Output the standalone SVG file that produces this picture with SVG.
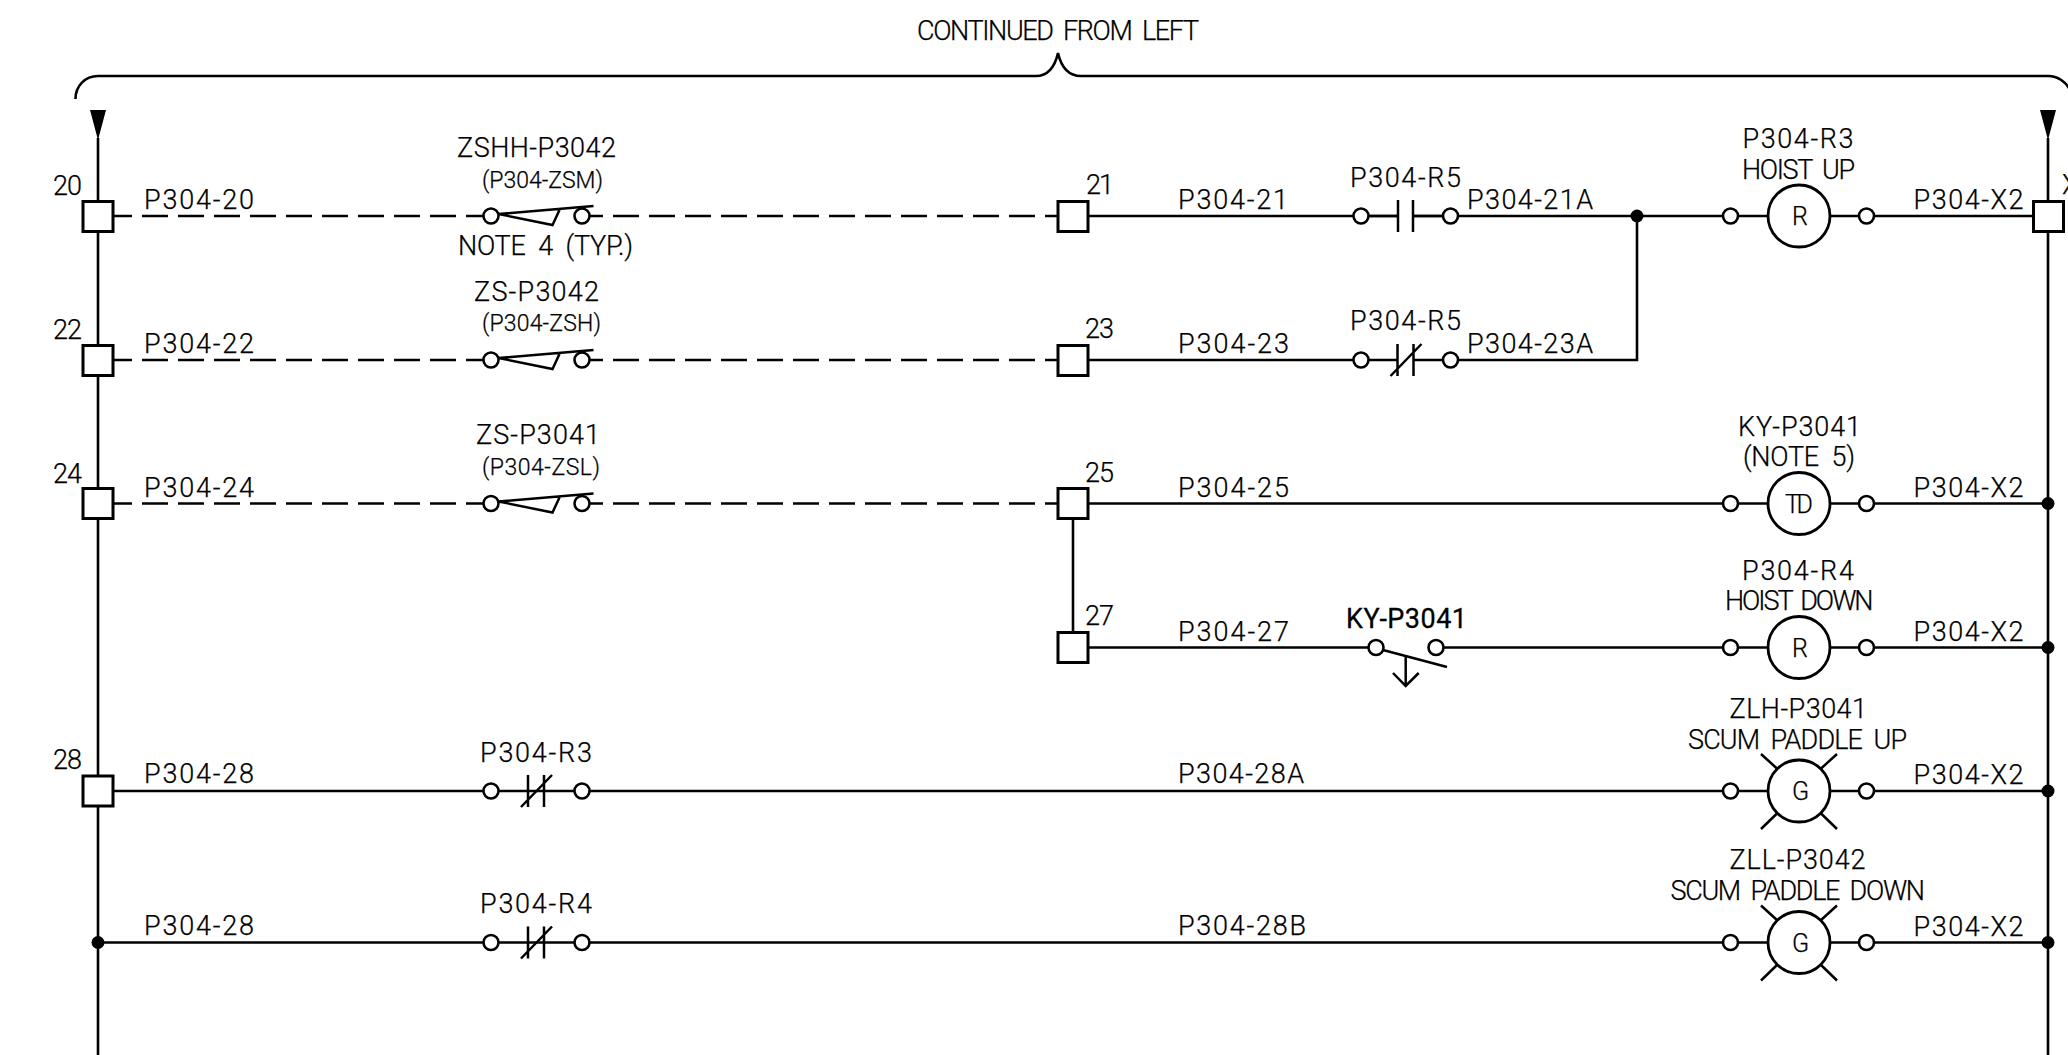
<svg xmlns="http://www.w3.org/2000/svg" width="2068" height="1055" viewBox="0 0 2068 1055">
<style>
text{font-family:Roboto,"Liberation Sans",Arial,sans-serif;font-weight:300;font-size:27px;fill:#000;stroke:#000;stroke-width:.25;white-space:pre}
text.s{font-size:23px}
text.c{font-size:25px}
text.b{font-weight:400;stroke-width:.3}
.w,.w line,.w path{fill:none;stroke:#000;stroke-width:2.6}
.d{stroke-dasharray:26 10}
.box{fill:#fff;stroke:#000;stroke-width:3}
.o{fill:#fff;stroke:#000;stroke-width:2.6}
.coil{fill:#fff;stroke:#000;stroke-width:2.8}
.dot{fill:#000}
.t{fill:none;stroke:#000;stroke-width:2.5}
</style>
<defs>
<g id="term"><rect class="box" x="-15" y="-15" width="30" height="30"/></g>
<g id="cp"><circle class="o" cx="0" cy="0" r="7.5"/></g>
<g id="zs"><circle class="o" cx="-45.5" cy="0" r="7.5"/><circle class="o" cx="45.5" cy="0" r="7.5"/><path class="t" d="M-38-2L57-10M-38-2L16 9L23-6"/></g>
<g id="nc"><path class="t" d="M-8-16V16M8-16V16M-15 16L16-16"/></g>
<g id="rays"><path class="t" d="M-38-37L-21.5-22M38-37L21.5-22M-38 38L-21.5 22M38 38L21.5 22"/></g>
</defs>

<g id="connectors">
<g class="w">
<path d="M75.500 99C75.500 86 85 76 98 76H1036C1048 76 1055 66 1058 53C1061 66 1068 76 1081 76H2048C2058 76 2066 82 2070 90"/>
<line x1="98" y1="138" x2="98" y2="1055"/>
<line x1="2048" y1="138" x2="2048" y2="1055"/>
<line class="d" x1="113" y1="216" x2="483" y2="216" stroke-dashoffset="7"/>
<line class="d" x1="589" y1="216" x2="1058" y2="216" stroke-dashoffset="12"/>
<line class="d" x1="113" y1="360" x2="483" y2="360" stroke-dashoffset="7"/>
<line class="d" x1="589" y1="360" x2="1058" y2="360" stroke-dashoffset="12"/>
<line class="d" x1="113" y1="503.500" x2="483" y2="503.500" stroke-dashoffset="7"/>
<line class="d" x1="589" y1="503.500" x2="1058" y2="503.500" stroke-dashoffset="12"/>
<path d="M1088 216H1398M1413 216H2033"/>
<path d="M1088 360H1398M1413 360H1637V216"/>
<path d="M1088 503.500H2048"/>
<path d="M1073 519V632.500"/>
<path d="M1088 647.500H1368M1444 647.500H2048"/>
<path d="M113 791H2048"/>
<path d="M98 942.500H2048"/>
</g>
<path class="dot" d="M90 110H106L98 140Z"/>
<path class="dot" d="M2040 110H2056L2048 140Z"/>
<circle class="dot" cx="1637" cy="216" r="6.500"/>
<circle class="dot" cx="98" cy="942.500" r="6.500"/>
<circle class="dot" cx="2048" cy="503.500" r="6.500"/>
<circle class="dot" cx="2048" cy="647.500" r="6.500"/>
<circle class="dot" cx="2048" cy="791" r="6.500"/>
<circle class="dot" cx="2048" cy="942.500" r="6.500"/>
</g>

<g id="title"><text x="917" y="40" textLength="282">CONTINUED  FROM  LEFT</text></g>

<g id="t20"><use href="#term" x="98" y="216.500"/><text x="53" y="195" textLength="29">20</text><text x="144" y="209" textLength="110">P304-20</text></g>
<g id="t22"><use href="#term" x="98" y="360.500"/><text x="53" y="339" textLength="29">22</text><text x="144" y="353" textLength="110">P304-22</text></g>
<g id="t24"><use href="#term" x="98" y="503.500"/><text x="53" y="483" textLength="29">24</text><text x="144" y="497" textLength="110">P304-24</text></g>
<g id="t28"><use href="#term" x="98" y="791"/><text x="53" y="769" textLength="29">28</text><text x="144" y="783" textLength="110">P304-28</text></g>
<g id="w28b"><text x="144" y="935" textLength="110">P304-28</text></g>

<g id="zshh"><use href="#zs" x="536.500" y="216"/><text x="457" y="157" textLength="159">ZSHH-P3042</text><text class="s" x="482" y="188" textLength="121">(P304-ZSM)</text><text x="458" y="255" textLength="175">NOTE  4  (TYP.)</text></g>
<g id="zsh"><use href="#zs" x="536.500" y="360"/><text x="474" y="300.500" textLength="125">ZS-P3042</text><text class="s" x="482" y="331" textLength="119">(P304-ZSH)</text></g>
<g id="zsl"><use href="#zs" x="536.500" y="503.500"/><text x="476" y="444" textLength="124">ZS-P3041</text><text class="s" x="482" y="475" textLength="118">(P304-ZSL)</text></g>
<g id="r3c"><use href="#cp" x="491" y="791"/><use href="#cp" x="582" y="791"/><use href="#nc" x="536" y="791"/><text x="480" y="761.500" textLength="112">P304-R3</text></g>
<g id="r4c"><use href="#cp" x="491" y="942.500"/><use href="#cp" x="582" y="942.500"/><use href="#nc" x="536" y="942.500"/><text x="480" y="912.500" textLength="112">P304-R4</text></g>

<g id="t21"><use href="#term" x="1073" y="216.500"/><text x="1086" y="194" textLength="28">21</text><text x="1178" y="209" textLength="110">P304-21</text></g>
<g id="t23"><use href="#term" x="1073" y="360.500"/><text x="1085" y="338" textLength="29">23</text><text x="1178" y="353" textLength="111">P304-23</text></g>
<g id="t25"><use href="#term" x="1073" y="503.500"/><text x="1085" y="481.500" textLength="29">25</text><text x="1178" y="497" textLength="111">P304-25</text></g>
<g id="t27"><use href="#term" x="1073" y="647.500"/><text x="1085" y="625" textLength="29">27</text><text x="1178" y="640.500" textLength="111">P304-27</text></g>
<g id="w28a"><text x="1178" y="783" textLength="126">P304-28A</text></g>
<g id="w28bl"><text x="1178" y="935" textLength="128">P304-28B</text></g>

<g id="r5a"><path class="t" d="M1368 216H1398M1398 200V232M1413 200V232M1413 216H1443"/><use href="#cp" x="1361" y="216"/><use href="#cp" x="1450.500" y="216"/><text x="1350" y="187" textLength="111">P304-R5</text><text x="1467" y="209" textLength="126">P304-21A</text></g>
<g id="r5b"><use href="#cp" x="1361" y="360"/><use href="#cp" x="1450.500" y="360"/><use href="#nc" x="1405.500" y="360"/><text x="1350" y="330" textLength="111">P304-R5</text><text x="1467" y="353" textLength="126">P304-23A</text></g>
<g id="ky"><use href="#cp" x="1376" y="647.500"/><use href="#cp" x="1436" y="647.500"/><path class="t" d="M1383 650L1447 667M1405.700 656V686M1393 673L1405.700 686L1418.700 673"/><text class="b" x="1346" y="628" textLength="121">KY-P3041</text></g>

<g id="coil1"><use href="#cp" x="1730.500" y="216"/><use href="#cp" x="1866.500" y="216"/><circle class="coil" cx="1799" cy="216" r="31"/><text class="c" x="1792" y="225" textLength="14">R</text><text x="1742.500" y="148" textLength="111">P304-R3</text><text x="1742" y="179" textLength="113">HOIST  UP</text><text x="1913.500" y="209" textLength="110">P304-X2</text></g>
<g id="coil2"><use href="#cp" x="1730.500" y="503.500"/><use href="#cp" x="1866.500" y="503.500"/><circle class="coil" cx="1799" cy="503.500" r="31"/><text class="c" x="1785" y="513" textLength="28">TD</text><text x="1738" y="436" textLength="123">KY-P3041</text><text x="1743" y="466" textLength="112">(NOTE  5)</text><text x="1913.500" y="497" textLength="110">P304-X2</text></g>
<g id="coil3"><use href="#cp" x="1730.500" y="647.500"/><use href="#cp" x="1866.500" y="647.500"/><circle class="coil" cx="1799" cy="647.500" r="31"/><text class="c" x="1792" y="656.500" textLength="14">R</text><text x="1742" y="579.500" textLength="112">P304-R4</text><text x="1725" y="610" textLength="148.500">HOIST  DOWN</text><text x="1913.500" y="640.500" textLength="110">P304-X2</text></g>
<g id="lamp1"><use href="#cp" x="1730.500" y="791"/><use href="#cp" x="1866.500" y="791"/><use href="#rays" x="1799" y="791"/><circle class="coil" cx="1799" cy="791" r="31"/><text class="c" x="1792" y="800" textLength="14">G</text><text x="1729.500" y="717.500" textLength="137.500">ZLH-P3041</text><text x="1688" y="749" textLength="219">SCUM  PADDLE  UP</text><text x="1913.500" y="783.500" textLength="110">P304-X2</text></g>
<g id="lamp2"><use href="#cp" x="1730.500" y="942.500"/><use href="#cp" x="1866.500" y="942.500"/><use href="#rays" x="1799" y="942.500"/><circle class="coil" cx="1799" cy="942.500" r="31"/><text class="c" x="1792" y="951.500" textLength="14">G</text><text x="1729.500" y="868.500" textLength="136">ZLL-P3042</text><text x="1670.500" y="900" textLength="254.500">SCUM  PADDLE  DOWN</text><text x="1913.500" y="935.500" textLength="110">P304-X2</text></g>
<g id="tx2"><use href="#term" x="2048.500" y="216.500"/><text x="2062" y="194">X</text></g>
</svg>
